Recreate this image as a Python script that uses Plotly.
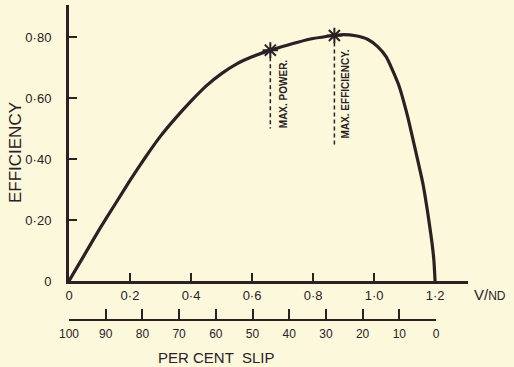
import plotly.graph_objects as go

# ---- data ----
v_nd = [0, 0.05, 0.10, 0.15, 0.20, 0.25, 0.30, 0.35, 0.40, 0.45, 0.50, 0.55, 0.60,
        0.66, 0.70, 0.75, 0.80, 0.87, 0.90, 0.94, 0.98, 1.01, 1.04, 1.08, 1.11, 1.14,
        1.16, 1.175, 1.188, 1.196, 1.20]
efficiency = [0, 0.085, 0.17, 0.25, 0.33, 0.405, 0.475, 0.535, 0.59, 0.64, 0.68, 0.712, 0.735,
              0.757, 0.769, 0.783, 0.795, 0.805, 0.808, 0.804, 0.792, 0.77, 0.735, 0.645, 0.54, 0.41,
              0.32, 0.23, 0.14, 0.07, 0]

x_ticks = [0, 0.2, 0.4, 0.6, 0.8, 1.0, 1.2]
x_ticktext = ["0", "0·2", "0·4", "0·6", "0·8", "1·0", "1·2"]
y_ticks = [0, 0.2, 0.4, 0.6, 0.8]
y_ticktext = ["0", "0·20", "0·40", "0·60", "0·80"]
slip_ticks = [100, 90, 80, 70, 60, 50, 40, 30, 20, 10, 0]

points_names = ["MAX. POWER.", "MAX. EFFICIENCY."]
points_x = [0.66, 0.87]
points_y = [0.757, 0.805]

ink = "#2b2125"
paper = "#fbf8dc"
font = "Liberation Sans"

fig = go.Figure()

fig.add_trace(go.Scatter(x=v_nd, y=efficiency, mode="lines",
                         line=dict(color=ink, width=3.2, shape="spline", smoothing=0.5),
                         hoverinfo="skip", showlegend=False))

# guide dashed lines
guide_bottom = [0.50, 0.446]
label_y = [0.613, 0.613]
label_dx = [0.042, 0.036]
for px, py, gb in zip(points_x, points_y, guide_bottom):
    fig.add_trace(go.Scatter(x=[px, px], y=[py, gb], mode="lines",
                             line=dict(color=ink, width=1.5, dash="4px,3px"),
                             showlegend=False, hoverinfo="skip"))

fig.add_trace(go.Scatter(x=points_x, y=points_y, mode="markers",
                         marker=dict(symbol="asterisk-open", size=13, color=ink,
                                     line=dict(color=ink, width=2)),
                         showlegend=False, hoverinfo="skip"))

# invisible trace for slip axis
fig.add_trace(go.Scatter(x=slip_ticks, y=[0] * len(slip_ticks), xaxis="x2", yaxis="y", mode="markers",
                         marker=dict(opacity=0), showlegend=False, hoverinfo="skip"))

for name, px, ly, dx in zip(points_names, points_x, label_y, label_dx):
    fig.add_annotation(x=px + dx, y=ly, text="<b>" + name + "</b>", textangle=-90, showarrow=False,
                       xanchor="center", yanchor="middle",
                       font=dict(family=font, size=10, color=ink))

fig.add_annotation(x=-0.1353, y=0.53, xref="paper", yref="paper", text="EFFICIENCY", textangle=-90,
                   xanchor="center", yanchor="middle",
                   showarrow=False, font=dict(family=font, size=17, color=ink))
fig.add_annotation(x=1.055, y=0.0794, xref="paper", yref="paper",
                   xanchor="center", yanchor="middle",
                   text="V/<span style='font-size:12px'>ND</span>", showarrow=False,
                   font=dict(family=font, size=15, color=ink))
fig.add_annotation(x=0.368, y=-0.1175, xref="paper", yref="paper", text="PER CENT  SLIP",
                   xanchor="center", yanchor="middle",
                   showarrow=False, font=dict(family=font, size=15, color=ink))

axis_common = dict(showgrid=False, zeroline=False, showline=True, linecolor=ink, linewidth=3,
                   ticks="inside", ticklen=8, tickwidth=2, tickcolor=ink,
                   tickfont=dict(family=font, size=13, color=ink))

fig.update_layout(
    width=514, height=367,
    margin=dict(l=69, r=46, t=5, b=47),
    paper_bgcolor=paper, plot_bgcolor="rgba(0,0,0,0)",
    xaxis=dict(range=[0, 1.308], domain=[0, 1], anchor="y", tickvals=x_ticks, ticktext=x_ticktext,
               ticklabelstandoff=0, **axis_common),
    yaxis=dict(range=[0, 0.905], domain=[0.1238, 1], anchor="x", tickvals=y_ticks, ticktext=y_ticktext,
               ticklabelstandoff=12, **axis_common),
    xaxis2=dict(range=[100, 0], domain=[0, 0.9198], anchor="free", position=0, tickvals=slip_ticks,
                ticktext=[str(s) for s in slip_ticks], ticklabelstandoff=3,
                **{**axis_common, "linewidth": 2, "ticklen": 10, "tickwidth": 1.5,
                   "tickfont": dict(family=font, size=12, color=ink)}),
)

fig.write_html("out.html")
